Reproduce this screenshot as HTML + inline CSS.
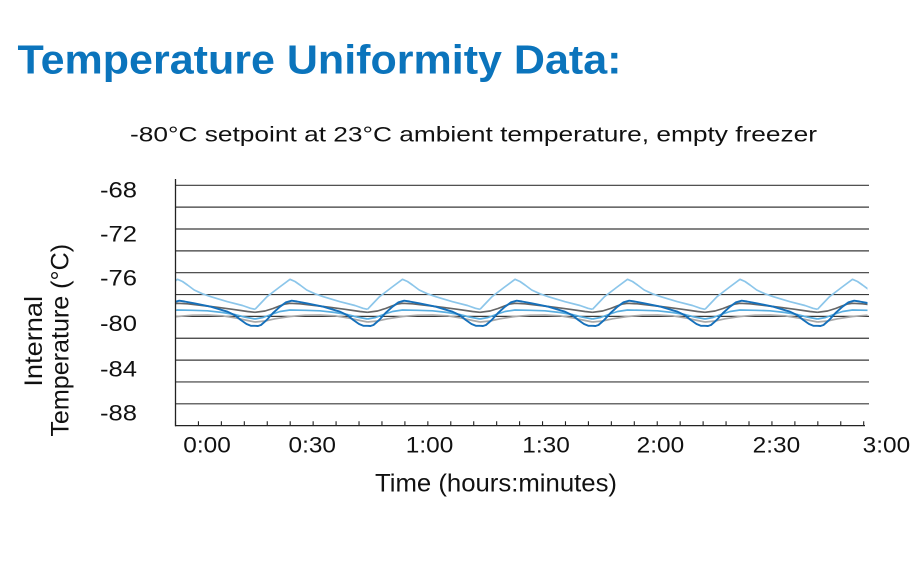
<!DOCTYPE html>
<html>
<head>
<meta charset="utf-8">
<style>
  html, body { margin: 0; padding: 0; background: #ffffff; }
  body { width: 920px; height: 568px; overflow: hidden; }
  svg { display: block; }
  text { font-family: "Liberation Sans", "DejaVu Sans", sans-serif; fill: #111; }
</style>
</head>
<body>
<svg width="920" height="568" viewBox="0 0 920 568" xmlns="http://www.w3.org/2000/svg">
  <defs>
    <clipPath id="plot">
      <rect x="175.5" y="175" width="692" height="252"/>
    </clipPath>
    <path id="lgray" d="M0,322 L10,321 L20,318.8 L35,316.5 L50,315.2 L65,315 L80,315.8 L95,318.3 L105,320.5 L112.5,322" fill="none" stroke="#a9a9a9" stroke-width="1.7" stroke-linejoin="round"/>
    <path id="dgray" d="M0,312.3 L10,311 L18,308.5 L25,305.8 L30,304 L35,303.3 L45,303.8 L60,305.5 L75,307.3 L90,309.3 L105,311.5 L112.5,312.3" fill="none" stroke="#666666" stroke-width="1.7" stroke-linejoin="round"/>
    <path id="mblue" d="M0,319 L8,317.5 L16,314.5 L25,311.5 L35,310 L50,310.3 L65,310.8 L80,312.5 L92,314.5 L102,317 L112.5,319" fill="none" stroke="#5aaee0" stroke-width="1.7" stroke-linejoin="round"/>
    <path id="lblue" d="M0,309.3 L6,303 L12,296.7 L24,287.5 L35,279.3 L40,281.5 L45,285 L51.7,290 L60,293.8 L68.3,296.7 L85,301.7 L100,305.5 L108,308.3 L112.5,309.3" fill="none" stroke="#8cc6ea" stroke-width="1.7" stroke-linejoin="round"/>
    <path id="dblue" d="M0,325.8 L3,326 L6,325 L11.7,320 L18,313 L25,306.7 L31,302.3 L36.7,300.7 L42,301.5 L51.7,303.3 L68.3,306.7 L85,311.7 L92,315 L98.3,320 L104,324 L108.3,325.8 L112.5,325.8" fill="none" stroke="#1570bb" stroke-width="1.9" stroke-linejoin="round"/>
  </defs>

  <!-- Title -->
  <text x="17.5" y="73.3" font-size="41" font-weight="bold" style="fill:#0b74bc" textLength="604" lengthAdjust="spacingAndGlyphs">Temperature Uniformity Data:</text>

  <!-- Subtitle -->
  <text x="130" y="141.7" font-size="21.5" textLength="687" lengthAdjust="spacingAndGlyphs">-80°C setpoint at 23°C ambient temperature, empty freezer</text>

  <!-- Gridlines -->
  <g stroke="#3a3a3a" stroke-width="1.2">
    <line x1="175" y1="185.3" x2="869" y2="185.3"/>
    <line x1="175" y1="207.15" x2="869" y2="207.15"/>
    <line x1="175" y1="229.0" x2="869" y2="229.0"/>
    <line x1="175" y1="250.85" x2="869" y2="250.85"/>
    <line x1="175" y1="272.7" x2="869" y2="272.7"/>
    <line x1="175" y1="294.55" x2="869" y2="294.55"/>
    <line x1="175" y1="316.4" x2="869" y2="316.4"/>
    <line x1="175" y1="338.25" x2="869" y2="338.25"/>
    <line x1="175" y1="360.1" x2="869" y2="360.1"/>
    <line x1="175" y1="381.95" x2="869" y2="381.95"/>
    <line x1="175" y1="403.8" x2="869" y2="403.8"/>
  </g>

  <!-- Series -->
  <g clip-path="url(#plot)">
    <g>
      <use href="#lgray" transform="translate(142.5,0)"/>
      <use href="#lgray" transform="translate(255,0)"/>
      <use href="#lgray" transform="translate(367.5,0)"/>
      <use href="#lgray" transform="translate(480,0)"/>
      <use href="#lgray" transform="translate(592.5,0)"/>
      <use href="#lgray" transform="translate(705,0)"/>
      <use href="#lgray" transform="translate(817.5,0)"/>
    </g>
    <g>
      <use href="#dgray" transform="translate(142.5,0)"/>
      <use href="#dgray" transform="translate(255,0)"/>
      <use href="#dgray" transform="translate(367.5,0)"/>
      <use href="#dgray" transform="translate(480,0)"/>
      <use href="#dgray" transform="translate(592.5,0)"/>
      <use href="#dgray" transform="translate(705,0)"/>
      <use href="#dgray" transform="translate(817.5,0)"/>
    </g>
    <g>
      <use href="#mblue" transform="translate(142.5,0)"/>
      <use href="#mblue" transform="translate(255,0)"/>
      <use href="#mblue" transform="translate(367.5,0)"/>
      <use href="#mblue" transform="translate(480,0)"/>
      <use href="#mblue" transform="translate(592.5,0)"/>
      <use href="#mblue" transform="translate(705,0)"/>
      <use href="#mblue" transform="translate(817.5,0)"/>
    </g>
    <g>
      <use href="#lblue" transform="translate(142.5,0)"/>
      <use href="#lblue" transform="translate(255,0)"/>
      <use href="#lblue" transform="translate(367.5,0)"/>
      <use href="#lblue" transform="translate(480,0)"/>
      <use href="#lblue" transform="translate(592.5,0)"/>
      <use href="#lblue" transform="translate(705,0)"/>
      <use href="#lblue" transform="translate(817.5,0)"/>
    </g>
    <g>
      <use href="#dblue" transform="translate(142.5,0)"/>
      <use href="#dblue" transform="translate(255,0)"/>
      <use href="#dblue" transform="translate(367.5,0)"/>
      <use href="#dblue" transform="translate(480,0)"/>
      <use href="#dblue" transform="translate(592.5,0)"/>
      <use href="#dblue" transform="translate(705,0)"/>
      <use href="#dblue" transform="translate(817.5,0)"/>
    </g>
  </g>

  <!-- Axes -->
  <line x1="175.5" y1="179" x2="175.5" y2="426.3" stroke="#222" stroke-width="1.3"/>
  <line x1="175" y1="425.65" x2="865" y2="425.65" stroke="#222" stroke-width="1.3"/>
  <path d="M175.5,421.3v4.5m22.94,-4.5v4.5m22.94,-4.5v4.5m22.94,-4.5v4.5m22.94,-4.5v4.5m22.94,-4.5v4.5m22.94,-4.5v4.5m22.94,-4.5v4.5m22.94,-4.5v4.5m22.94,-4.5v4.5m22.94,-4.5v4.5m22.94,-4.5v4.5m22.94,-4.5v4.5m22.94,-4.5v4.5m22.94,-4.5v4.5m22.94,-4.5v4.5m22.94,-4.5v4.5m22.94,-4.5v4.5m22.94,-4.5v4.5m22.94,-4.5v4.5m22.94,-4.5v4.5m22.94,-4.5v4.5m22.94,-4.5v4.5m22.94,-4.5v4.5m22.94,-4.5v4.5m22.94,-4.5v4.5m22.94,-4.5v4.5m22.94,-4.5v4.5m22.94,-4.5v4.5m22.94,-4.5v4.5m22.94,-4.5v4.5" stroke="#222" stroke-width="1.1" fill="none"/>

  <!-- Y tick labels -->
  <g font-size="22" text-anchor="end">
    <text x="137" y="197.3" textLength="37" lengthAdjust="spacingAndGlyphs">-68</text>
    <text x="137" y="241.7" textLength="37" lengthAdjust="spacingAndGlyphs">-72</text>
    <text x="137" y="285.7" textLength="37" lengthAdjust="spacingAndGlyphs">-76</text>
    <text x="137" y="331" textLength="37" lengthAdjust="spacingAndGlyphs">-80</text>
    <text x="137" y="376.7" textLength="37" lengthAdjust="spacingAndGlyphs">-84</text>
    <text x="137" y="420.7" textLength="37" lengthAdjust="spacingAndGlyphs">-88</text>
  </g>

  <!-- X tick labels -->
  <g font-size="22">
    <text x="183.3" y="452.7" textLength="47.5" lengthAdjust="spacingAndGlyphs">0:00</text>
    <text x="288.5" y="452.7" textLength="47.5" lengthAdjust="spacingAndGlyphs">0:30</text>
    <text x="405.8" y="452.7" textLength="47.5" lengthAdjust="spacingAndGlyphs">1:00</text>
    <text x="522.3" y="452.7" textLength="47.5" lengthAdjust="spacingAndGlyphs">1:30</text>
    <text x="636.7" y="452.7" textLength="47.5" lengthAdjust="spacingAndGlyphs">2:00</text>
    <text x="752.7" y="452.7" textLength="47.5" lengthAdjust="spacingAndGlyphs">2:30</text>
    <text x="862.7" y="452.7" textLength="47.5" lengthAdjust="spacingAndGlyphs">3:00</text>
  </g>

  <!-- X axis title -->
  <text x="375" y="491.7" font-size="25" textLength="242" lengthAdjust="spacingAndGlyphs">Time (hours:minutes)</text>

  <!-- Y axis title -->
  <text transform="translate(42,341.3) rotate(-90)" font-size="25" text-anchor="middle" textLength="90.7" lengthAdjust="spacingAndGlyphs">Internal</text>
  <text transform="translate(68.5,340.3) rotate(-90)" font-size="25" text-anchor="middle" textLength="192.7" lengthAdjust="spacingAndGlyphs">Temperature (°C)</text>
</svg>
</body>
</html>
